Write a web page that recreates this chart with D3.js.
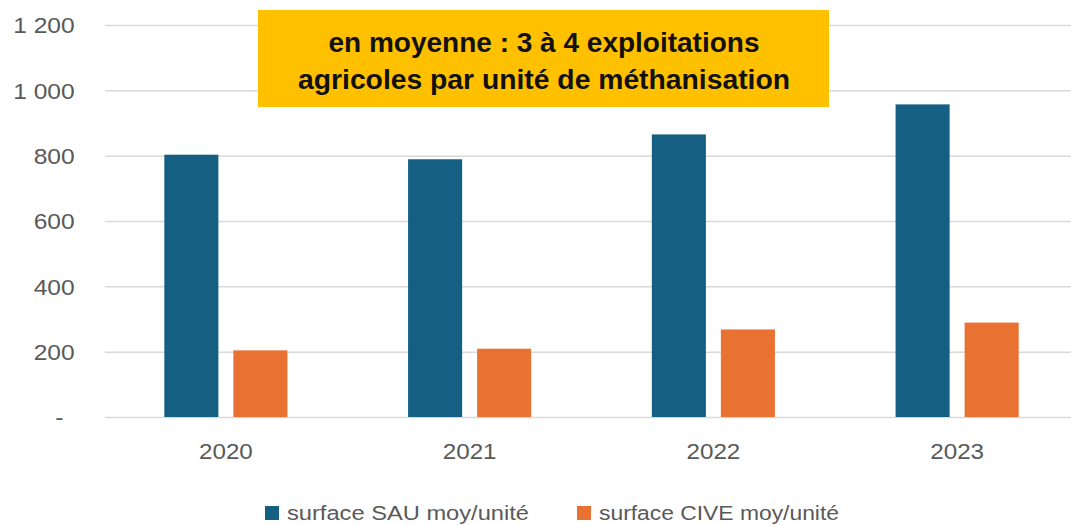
<!DOCTYPE html>
<html>
<head>
<meta charset="utf-8">
<script src="https://cdn.jsdelivr.net/npm/d3@7"></script>
<style>
  body { margin: 0; background: #fff; }
  svg { display: block; font-family: "Liberation Sans", Arial, sans-serif; }
</style>
</head>
<body>
<svg width="1071" height="525"></svg>
<script>
    // data
    const years = ['2020', '2021', '2022', '2023'];
    const sau = [803, 789, 865, 957];
    const cive = [204, 209, 268, 289];
    const seriesNames = ['surface SAU moy/unité', 'surface CIVE moy/unité'];
    const seriesColors = ['#156082', '#E97132'];
    const yTicks = [0, 200, 400, 600, 800, 1000, 1200];
    const noteLines = ['en moyenne : 3 à 4 exploitations', 'agricoles par unité de méthanisation'];

    const svg = d3.select('svg');
    const width = 1071;
    const sx = 1.12; // the picture is a little stretched sideways

    const rows = years.map((y, i) => ({ year: y, values: [sau[i], cive[i]] }));

    // scales
    const x0 = d3.scaleBand()
      .domain(years)
      .range([104, 1079])
      .paddingInner(0.495)
      .paddingOuter(0.2475);
    const x1 = d3.scaleBand()
      .domain([0, 1])
      .range([0, x0.bandwidth()])
      .paddingInner(0.217);
    const yScale = d3.scaleLinear()
      .domain([0, 1200])
      .range([417, 25]);

    // gridlines + y labels
    const yAxis = d3.axisLeft(yScale)
      .tickValues(yTicks)
      .tickSize(-(width - 105))
      .tickFormat(d => d === 0 ? '-' : d3.format(',')(d).replace(',', ' '));
    const gY = svg.append('g')
      .attr('transform', 'translate(105,0)')
      .call(yAxis);
    gY.select('.domain').remove();
    gY.selectAll('.tick line')
      .attr('stroke', '#d9d9d9')
      .attr('stroke-width', 1.5);
    gY.selectAll('.tick text')
      .attr('x', d => d === 0 ? -37 : -27)
      .attr('dy', '0.35em')
      .attr('transform', 'scale(' + sx + ',1)')
      .attr('fill', '#595959')
      .style('font-size', '22px')
      .style('font-family', '"Liberation Sans", Arial, sans-serif');

    // bars
    const groups = svg.append('g').selectAll('g')
      .data(rows)
      .enter().append('g')
      .attr('transform', d => 'translate(' + x0(d.year) + ',0)');
    groups.selectAll('rect')
      .data(d => d.values.map((v, k) => ({ k: k, v: v })))
      .enter().append('rect')
      .attr('x', d => x1(d.k))
      .attr('width', x1.bandwidth())
      .attr('y', d => yScale(d.v))
      .attr('height', d => yScale(0) - yScale(d.v))
      .attr('fill', d => seriesColors[d.k]);

    // x labels
    const xAxis = d3.axisBottom(x0).tickSize(0).tickPadding(0);
    const gX = svg.append('g')
      .attr('transform', 'translate(0,' + yScale(0) + ')')
      .call(xAxis);
    gX.select('.domain').remove();
    gX.selectAll('.tick text')
      .attr('x', 0)
      .attr('y', 42)
      .attr('dy', 0)
      .attr('transform', 'scale(1.1,1)')
      .attr('fill', '#595959')
      .style('font-size', '22px')
      .style('font-family', '"Liberation Sans", Arial, sans-serif');

    // annotation box
    svg.append('rect')
      .attr('x', 258)
      .attr('y', 10)
      .attr('width', 571)
      .attr('height', 97)
      .attr('fill', '#FFC000');
    const noteWidths = [431, 492];
    svg.selectAll('.note')
      .data(noteLines)
      .enter().append('text')
      .attr('class', 'note')
      .attr('x', 544)
      .attr('y', (d, i) => 52 + i * 37)
      .attr('text-anchor', 'middle')
      .attr('textLength', (d, i) => noteWidths[i])
      .attr('lengthAdjust', 'spacingAndGlyphs')
      .attr('fill', '#111')
      .style('font-size', '27px')
      .style('font-weight', 'bold')
      .text(d => d);

    // legend
    const legendX = [265, 577];
    const legendWidths = [242, 240];
    const legend = svg.selectAll('.legend')
      .data(seriesNames)
      .enter().append('g')
      .attr('class', 'legend')
      .attr('transform', (d, i) => 'translate(' + legendX[i] + ',506)');
    legend.append('rect')
      .attr('width', 14)
      .attr('height', 14)
      .attr('fill', (d, i) => seriesColors[i]);
    legend.append('text')
      .attr('x', 22)
      .attr('y', 14)
      .attr('textLength', (d, i) => legendWidths[i])
      .attr('lengthAdjust', 'spacingAndGlyphs')
      .attr('fill', '#595959')
      .style('font-size', '20px')
      .text(d => d);
</script>
</body>
</html>
